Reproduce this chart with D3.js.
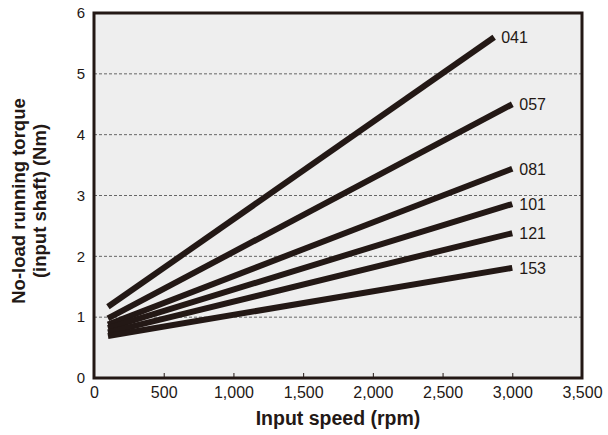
<!DOCTYPE html>
<html><head><meta charset="utf-8">
<script src="https://cdn.jsdelivr.net/npm/d3@7"></script>
<style>body{margin:0;background:#fff}svg{display:block}</style>
</head><body>
<script>
const seriesNames = ["041","057","081","101","121","153"];
const startSpeed = [100,100,100,100,100,100];
const endSpeed = [2870,3000,3000,3000,3000,3000];
const startTorque = [1.17,0.98,0.88,0.82,0.75,0.69];
const endTorque = [5.6,4.5,3.44,2.86,2.38,1.81];
const xTicks = [0,500,1000,1500,2000,2500,3000,3500];
const yTicks = [0,1,2,3,4,5,6];

const W=608,H=435;
const m={l:94,r:26,t:13,b:57};
const svg=d3.select("body").append("svg").attr("width",W).attr("height",H);
const x=d3.scaleLinear().domain([0,3500]).range([m.l,W-m.r]);
const y=d3.scaleLinear().domain([0,6]).range([H-m.b,m.t]);
const ink="#231815";
const font="Liberation Sans, Arial, sans-serif";

svg.append("rect").attr("x",x(0)).attr("y",y(6)).attr("width",x(3500)-x(0)).attr("height",y(0)-y(6)).attr("fill","#eeeeee");

// gridlines
svg.append("g").selectAll("line").data(yTicks.filter(d=>d>0&&d<6)).join("line")
 .attr("x1",x(0)).attr("x2",x(3500)).attr("y1",d=>y(d)).attr("y2",d=>y(d))
 .attr("stroke","#666").attr("stroke-width",1).attr("stroke-dasharray","3,2");

// x axis
const xa=svg.append("g").attr("transform",`translate(0,${y(0)})`)
 .call(d3.axisBottom(x).tickValues(xTicks).tickSize(-5).tickPadding(9).tickFormat(d3.format(",")));
xa.select(".domain").remove();
xa.selectAll("line").attr("stroke",ink).attr("stroke-width",1);
xa.selectAll("text").attr("font-family","Liberation Sans Narrow, Arial Narrow, sans-serif").attr("font-size",16).attr("fill","#231815");
xa.selectAll(".tick").filter(d=>d===0||d===3500).select("line").remove();

// y axis
const ya=svg.append("g").attr("transform",`translate(${x(0)},0)`)
 .call(d3.axisLeft(y).tickValues(yTicks).tickSize(0).tickPadding(9).tickFormat(d3.format("d")));
ya.select(".domain").remove();
ya.selectAll("text").attr("font-family",font).attr("font-size",15).attr("fill","#231815");

// lines
const data=seriesNames.map((n,i)=>({name:n,pts:[[startSpeed[i],startTorque[i]],[endSpeed[i],endTorque[i]]]}));
const line=d3.line().x(d=>x(d[0])).y(d=>y(d[1]));
svg.append("g").selectAll("path").data(data).join("path")
 .attr("d",d=>line(d.pts)).attr("fill","none").attr("stroke",ink).attr("stroke-width",6);
svg.append("g").selectAll("text").data(data).join("text")
 .attr("x",d=>x(d.pts[1][0])+7).attr("y",d=>y(d.pts[1][1])+6)
 .attr("font-family",font).attr("font-size",16).attr("fill","#231815").text(d=>d.name);

// frame
svg.append("rect").attr("x",x(0)).attr("y",y(6)).attr("width",x(3500)-x(0)).attr("height",y(0)-y(6))
 .attr("fill","none").attr("stroke",ink).attr("stroke-width",3);

// titles
svg.append("text").attr("x",(x(0)+x(3500))/2).attr("y",425).attr("text-anchor","middle")
 .attr("font-family",font).attr("font-weight","bold").attr("font-size",19.5).attr("fill","#231815").text("Input speed (rpm)");
const yt=svg.append("text").attr("transform","translate(0,201) rotate(-90)").attr("text-anchor","middle")
 .attr("font-family",font).attr("font-weight","bold").attr("font-size",18.5).attr("fill","#231815");
yt.append("tspan").attr("x",0).attr("y",25).text("No-load running torque");
yt.append("tspan").attr("x",0).attr("y",46).text("(input shaft) (Nm)");
</script>
</body></html>
